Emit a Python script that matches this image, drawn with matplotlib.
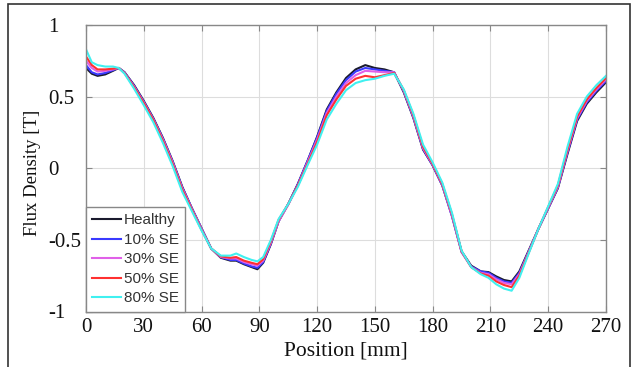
import matplotlib
matplotlib.use("Agg")
import matplotlib.pyplot as plt
from matplotlib.patches import Rectangle

plt.rcParams['axes.unicode_minus'] = False

position = [0, 3, 6, 10, 14, 17, 20, 25, 30, 35, 40, 45, 50, 55, 60, 65, 70, 75, 78, 82,
            86, 89, 92, 96, 100, 105, 110, 115, 120, 125, 130, 135, 140, 145, 150, 155, 160, 165, 170, 175,
            180, 185, 190, 195, 200, 205, 209, 213, 217, 221, 225, 230, 235, 240, 245, 250, 255, 260, 265, 270]

healthy = [0.70, 0.66, 0.645, 0.655, 0.68, 0.70, 0.67, 0.58, 0.47, 0.35,
           0.21, 0.05, -0.13, -0.28, -0.42, -0.56, -0.625, -0.645, -0.645, -0.67,
           -0.69, -0.705, -0.66, -0.53, -0.37, -0.25, -0.11, 0.05, 0.22, 0.41,
           0.53, 0.63, 0.69, 0.72, 0.70, 0.69, 0.67, 0.53, 0.35, 0.13,
           0.02, -0.12, -0.33, -0.58, -0.68, -0.72, -0.725, -0.755, -0.78, -0.79,
           -0.72, -0.57, -0.42, -0.28, -0.14, 0.10, 0.33, 0.45, 0.53, 0.60]

se10 = [0.72, 0.67, 0.655, 0.665, 0.685, 0.70, 0.67, 0.575, 0.465, 0.345,
        0.205, 0.045, -0.135, -0.28, -0.42, -0.56, -0.62, -0.64, -0.64, -0.665,
        -0.685, -0.695, -0.655, -0.525, -0.37, -0.25, -0.11, 0.05, 0.215, 0.40,
        0.52, 0.615, 0.675, 0.70, 0.69, 0.68, 0.67, 0.535, 0.355, 0.135,
        0.02, -0.12, -0.335, -0.585, -0.685, -0.72, -0.73, -0.765, -0.79, -0.80,
        -0.73, -0.575, -0.42, -0.28, -0.135, 0.11, 0.34, 0.46, 0.54, 0.61]

se30 = [0.75, 0.70, 0.675, 0.68, 0.69, 0.70, 0.665, 0.57, 0.46, 0.34,
        0.20, 0.04, -0.14, -0.285, -0.425, -0.56, -0.62, -0.63, -0.63, -0.655,
        -0.67, -0.68, -0.645, -0.52, -0.37, -0.255, -0.12, 0.04, 0.20, 0.385,
        0.50, 0.595, 0.65, 0.68, 0.675, 0.67, 0.67, 0.54, 0.36, 0.14,
        0.025, -0.115, -0.33, -0.585, -0.69, -0.73, -0.74, -0.775, -0.80, -0.81,
        -0.74, -0.58, -0.42, -0.275, -0.13, 0.12, 0.35, 0.47, 0.55, 0.62]

se50 = [0.78, 0.72, 0.69, 0.69, 0.695, 0.70, 0.665, 0.565, 0.455, 0.335,
        0.19, 0.03, -0.15, -0.29, -0.43, -0.56, -0.615, -0.625, -0.62, -0.645,
        -0.66, -0.67, -0.635, -0.51, -0.36, -0.25, -0.12, 0.03, 0.185, 0.37,
        0.48, 0.575, 0.625, 0.645, 0.635, 0.65, 0.665, 0.545, 0.37, 0.15,
        0.03, -0.11, -0.32, -0.58, -0.69, -0.735, -0.75, -0.79, -0.815, -0.83,
        -0.75, -0.585, -0.42, -0.27, -0.12, 0.13, 0.36, 0.48, 0.56, 0.63]

se80 = [0.83, 0.74, 0.72, 0.71, 0.71, 0.70, 0.66, 0.555, 0.44, 0.32,
        0.175, 0.015, -0.165, -0.30, -0.435, -0.56, -0.61, -0.61, -0.595, -0.62,
        -0.64, -0.65, -0.62, -0.50, -0.355, -0.25, -0.13, 0.02, 0.165, 0.34,
        0.45, 0.545, 0.595, 0.615, 0.625, 0.645, 0.66, 0.55, 0.38, 0.165,
        0.04, -0.10, -0.31, -0.575, -0.69, -0.74, -0.765, -0.81, -0.84, -0.855,
        -0.765, -0.59, -0.42, -0.265, -0.11, 0.15, 0.38, 0.50, 0.58, 0.645]

labels = ["Healthy", "10% SE", "30% SE", "50% SE", "80% SE"]
colors = ["#1a1a2e", "#3a3aff", "#e060e8", "#ff3030", "#40f0f0"]
xticks = [0, 30, 60, 90, 120, 150, 180, 210, 240, 270]
yticks = [-1, -0.5, 0, 0.5, 1]
yticklabels = ["-1", "-0.5", "0", "0.5", "1"]

W, H = 637, 367
fig = plt.figure(figsize=(W / 100, H / 100), dpi=100)
fig.patches.append(Rectangle((8 / W, -0.1), (630 - 8) / W, 1.1 - 4 / H,
                             transform=fig.transFigure, fill=False,
                             edgecolor="#333333", linewidth=1.2))
ax = fig.add_axes([86 / W, 1 - 311.5 / H, (606 - 86) / W, (311.5 - 25) / H])

for ys, c, lab in zip([healthy, se10, se30, se50, se80], colors, labels):
    ax.plot(position, ys, color=c, linewidth=1.5, label=lab)

ax.set_xlim(0, 270)
ax.set_ylim(-1, 1)
ax.set_xticks(xticks)
ax.set_yticks(yticks)
ax.set_yticklabels(yticklabels)
ax.grid(True, color="#dddddd", linewidth=0.8)
ax.set_axisbelow(True)
for s in ax.spines.values():
    s.set_color("#888888")
    s.set_linewidth(1.0)
ax.tick_params(direction="in", length=4, color="#888888", top=True, right=True,
               labelsize=15, labelcolor="#111111")
ax.tick_params(axis="x", pad=5)
ax.tick_params(axis="y", pad=27.5)
for t in ax.get_yticklabels():
    t.set_horizontalalignment("left")
    t.set_family("Liberation Serif")
for t in ax.get_xticklabels():
    t.set_family("Liberation Serif")

ax.set_xlabel("Position [mm]", fontsize=15.5, family="Liberation Serif", labelpad=3, color="#111111")
ax.set_ylabel("Flux Density [T]", fontsize=13.5, family="Liberation Serif", color="#111111")
ax.yaxis.set_label_coords(-0.087, 0.483)

leg = ax.legend(loc="lower left", borderaxespad=0, prop={"family": "Liberation Sans", "size": 11},
                handlelength=1.9, handletextpad=0.2, labelspacing=0.36, borderpad=0.4,
                fancybox=False, framealpha=1, edgecolor="#888888")
leg.get_frame().set_linewidth(1.0)
for t in leg.get_texts():
    t.set_color("#333333")

fig.savefig("out.png", dpi=100)
